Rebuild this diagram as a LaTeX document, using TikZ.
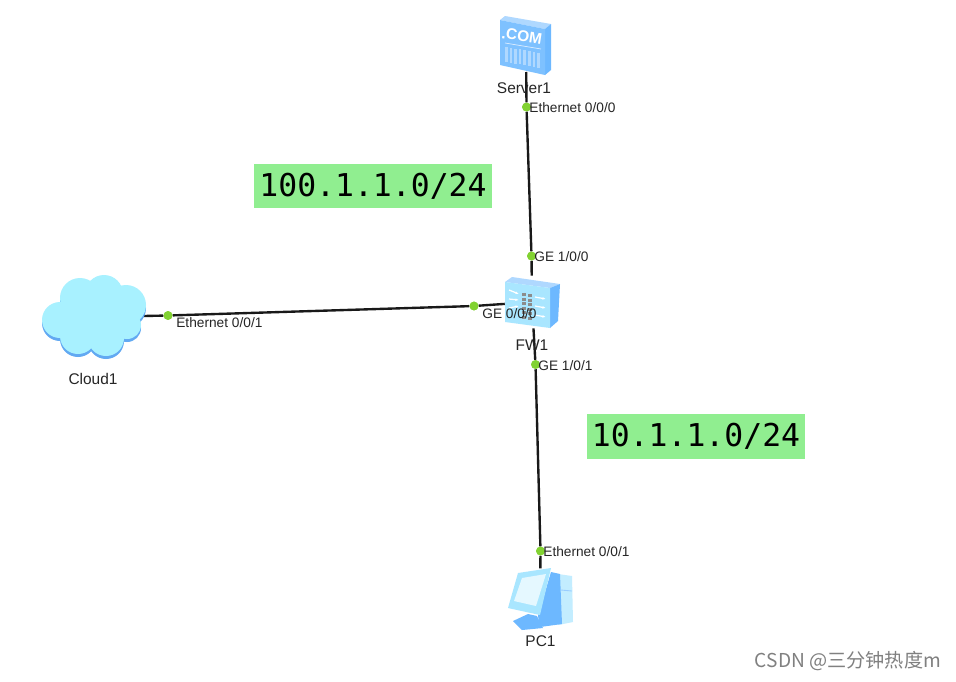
\documentclass[tikz,border=0pt]{standalone}
\usepackage{fontspec}
\setmainfont{Liberation Sans}
\newfontfamily\netzfont{DejaVu Sans Mono}
\newfontfamily\cjkfont{Noto Sans CJK SC}
\usetikzlibrary{arrows.meta}
\definecolor{hell}{HTML}{A9E6FF}
\definecolor{mittel}{HTML}{6DB8FF}
\definecolor{wolke}{HTML}{A8F1FF}
\definecolor{wolkerand}{HTML}{62A9F2}
\definecolor{punkt}{HTML}{82D232}
\definecolor{netzgruen}{HTML}{90EE90}
\begin{document}
\begin{tikzpicture}[
      x=0.02cm, y=-0.02cm,
      font=\fontsize{7.8}{9}\selectfont,
      geraet/.style={inner sep=0pt, outer sep=0pt},
      beschriftung/.style={geraet, text=black!85, font=\fontsize{8.8}{10}\selectfont},
      port/.style={circle, fill=punkt, inner sep=0pt, minimum size=5pt},
      kabel/.style={line width=1.35pt, black!90},
      etikett/.style={anchor=west, inner sep=0pt, text=black!85},
      netz/.style={fill=netzgruen, inner sep=0pt, minimum height=25.5pt, font=\netzfont\fontsize{17.9}{20}\selectfont}
    ]
      \useasboundingbox[fill=white] (0,0) rectangle (956,681);
      \node[geraet, minimum width=30pt, minimum height=33pt] (server) at (526,43) {};
      \node[geraet, minimum width=31pt, minimum height=30pt] (fw) at (532,302) {};
      \node[geraet, minimum width=57pt, minimum height=48pt] (cloud) at (93,317) {};
      \node[geraet, minimum width=38pt, minimum height=36pt] (pc) at (540,600) {};
      \node[port] (portserver) at (526.5,107) {};
      \node[port] (portfwoben) at (531.5,256) {};
      \node[port] (portfwlinks) at (474,306) {};
      \node[port] (portfwunten) at (535.5,364.5) {};
      \node[port] (portcloud) at (168,315.5) {};
      \node[port] (portpc) at (540.5,551) {};
      \draw[kabel] (server) -- (portserver) -- (portfwoben) -- (fw);
      \draw[kabel] (cloud) -- (portcloud) -- (portfwlinks) -- (fw);
      \draw[kabel] (fw) -- (portfwunten) -- (portpc) -- (pc);
      \node[port] at (portserver) {};
      \node[port] at (portfwoben) {};
      \node[port] at (portfwlinks) {};
      \node[port] at (portfwunten) {};
      \node[port] at (portcloud) {};
      \node[port] at (portpc) {};
      \fill[mittel!55] (500,20) -- (505,16) -- (551,24) -- (545,29) -- cycle;
      \fill[mittel] (545,29) -- (551,24) -- (551,70) -- (545,75) -- cycle;
      \fill[mittel!88] (500,20) -- (545,29) -- (545,75) -- (500,65) -- cycle;
      \node[geraet, text=white, font=\bfseries\fontsize{8.8}{10}\selectfont, rotate=-9] (com) at (522,36) {.COM};
      \draw[white!75!mittel, line width=0.4pt] (505,43) -- (541,49);
      \foreach \i in {0,1,...,7} {
        \fill[white!45!mittel] (505+4.6*\i,47+0.8*\i) rectangle +(2.6,15);
      }
      \fill[mittel!55] (512,277) -- (560,284) -- (550,288) -- (505,282) -- cycle;
      \fill[mittel] (550,288) -- (560,284) -- (558,321) -- (550,328) -- cycle;
      \fill[hell] (505,282) -- (550,288) -- (550,328) -- (505,322) -- cycle;
      \foreach \i in {0,1,2} {
        \draw[white, line width=0.7pt, -{Latex[length=2pt]}] (509,290+9*\i) -- (519,294+6*\i);
        \draw[white, line width=0.7pt, -{Latex[length=2pt]}] (535,297+9*\i) -- (546,299+9*\i);
      }
      \foreach \i in {0,1,...,5} {
        \fill[black!45] (522,293+4.5*\i) rectangle +(4,3);
        \fill[black!45] (528,294+4.5*\i) rectangle +(4,3);
      }
      \foreach \mx/\my/\mr in {60/320/18,80/298/20,104/294/19,126/305/20,127/325/14,106/338/18,78/336/18,93/315/30} {
        \fill[wolkerand] (\mx,\my+3) circle[radius=\mr];
      }
      \foreach \mx/\my/\mr in {60/320/18,80/298/20,104/294/19,126/305/20,127/325/14,106/338/18,78/336/18,93/315/30} {
        \fill[wolke] (\mx,\my) circle[radius=\mr];
      }
      \fill[hell!70] (551,573) -- (572,576) -- (573,622) -- (558,625) -- cycle;
      \fill[mittel] (551,572) -- (560,574) -- (562,624) -- (540,627) -- (538,616) -- cycle;
      \draw[mittel!70, line width=0.5pt] (561,590) -- (572,591);
      \fill[mittel] (513,621) -- (528,614) -- (537,616) -- (543,628) -- (522,630) -- cycle;
      \fill[hell] (518,573) -- (551,568) -- (540,615) -- (508,608) -- cycle;
      \fill[white!70!hell] (522,578) -- (546,574) -- (536,606) -- (514,601) -- cycle;
      \node[etikett] (etiketta) at (529,107.5) {Ethernet 0/0/0};
      \node[etikett] (etikettb) at (534,256.5) {GE 1/0/0};
      \node[etikett] (etikettc) at (482,313.5) {GE 0/0/0};
      \node[etikett] (etikettd) at (538,365.5) {GE 1/0/1};
      \node[etikett] (etikette) at (176,322.5) {Ethernet 0/0/1};
      \node[etikett] (etikettf) at (543,551.5) {Ethernet 0/0/1};
      \node[beschriftung] (servername) at (524,88) {Server1};
      \node[beschriftung] (fwname) at (532,345.5) {FW1};
      \node[beschriftung] (cloudname) at (93,378.5) {Cloud1};
      \node[beschriftung] (pcname) at (540.5,641) {PC1};
      \node[netz, minimum width=135.5pt] (netzoben) at (373,186) {100.1.1.0/24};
      \node[netz, minimum width=124pt] (netzunten) at (696,436.5) {10.1.1.0/24};
      \node[geraet, anchor=east, text=black!50, font=\cjkfont\fontsize{10.9}{12}\selectfont] (wasserzeichen) at (941,661) {CSDN @三分钟热度m};
    \end{tikzpicture}
\end{document}
